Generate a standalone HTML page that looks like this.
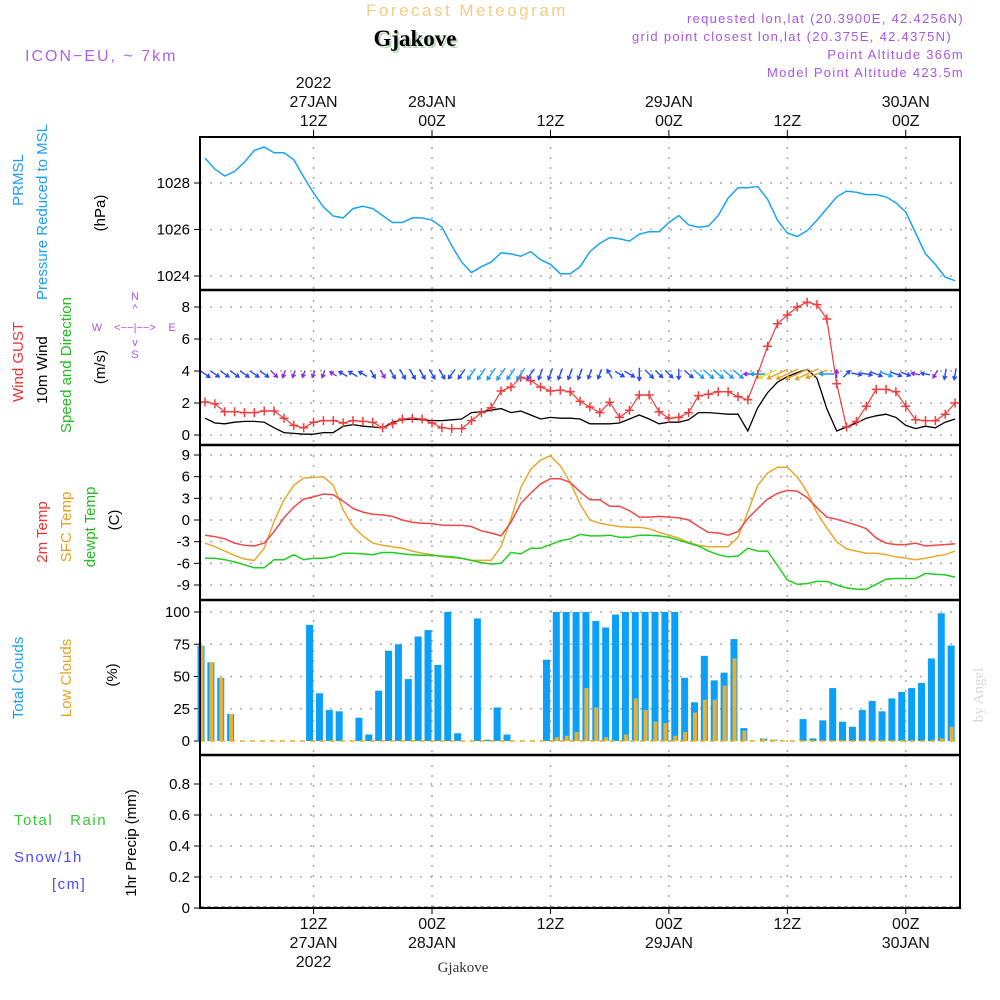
<!DOCTYPE html>
<html><head><meta charset="utf-8"><style>
html,body{margin:0;padding:0;background:#fff;}
svg{display:block;font-family:"Liberation Sans",sans-serif;}
</style></head><body>
<svg id="chart" width="1000" height="1000" viewBox="0 0 1000 1000" xmlns="http://www.w3.org/2000/svg">
<g>
<text x="467" y="16" text-anchor="middle" font-size="17" fill="#f3cd86" letter-spacing="2.5">Forecast Meteogram</text>
<text x="417" y="48" text-anchor="middle" font-size="23" font-weight="bold" font-family="Liberation Serif,serif" fill="#bcd4bc">Gjakove</text>
<text x="415" y="46" text-anchor="middle" font-size="23" font-weight="bold" font-family="Liberation Serif,serif" fill="#000">Gjakove</text>
<text x="25" y="61" font-size="16" fill="#b060e8" letter-spacing="2">ICON−EU, ~ 7km</text>
<g font-size="13" fill="#a855e8" text-anchor="end" letter-spacing="1.3">
<text x="964" y="23">requested lon,lat (20.3900E, 42.4256N)</text>
<text x="952" y="41">grid point closest lon,lat (20.375E, 42.4375N)</text>
<text x="964" y="59">Point Altitude 366m</text>
<text x="964" y="77">Model Point Altitude 423.5m</text>
</g>
</g>
<g id="axes"></g>
<g id="marks"></g>
<g font-size="15">
<text transform="translate(23,180) rotate(-90)" text-anchor="middle" fill="#1ea0f0">PRMSL</text>
<text transform="translate(47,212) rotate(-90)" text-anchor="middle" fill="#1ea0f0">Pressure Reduced to MSL</text>
<text transform="translate(105,213) rotate(-90)" text-anchor="middle" fill="#000">(hPa)</text>
<text transform="translate(23,362) rotate(-90)" text-anchor="middle" fill="#ee3333">Wind GUST</text>
<text transform="translate(47,370) rotate(-90)" text-anchor="middle" fill="#000">10m Wind</text>
<text transform="translate(71,365) rotate(-90)" text-anchor="middle" fill="#22bb22">Speed and Direction</text>
<text transform="translate(105,367) rotate(-90)" text-anchor="middle" fill="#000">(m/s)</text>
<text transform="translate(47,532) rotate(-90)" text-anchor="middle" fill="#ee3333">2m Temp</text>
<text transform="translate(71,527) rotate(-90)" text-anchor="middle" fill="#e8a020">SFC Temp</text>
<text transform="translate(95,527) rotate(-90)" text-anchor="middle" fill="#22bb22">dewpt Temp</text>
<text transform="translate(119,520) rotate(-90)" text-anchor="middle" fill="#000">(C)</text>
<text transform="translate(23,678) rotate(-90)" text-anchor="middle" fill="#1ea0f0">Total Clouds</text>
<text transform="translate(71,678) rotate(-90)" text-anchor="middle" fill="#e8a020">Low Clouds</text>
<text transform="translate(117,675) rotate(-90)" text-anchor="middle" fill="#000">(%)</text>
<text transform="translate(136,843) rotate(-90)" text-anchor="middle" fill="#000">1hr Precip (mm)</text>
<text x="14" y="825" fill="#33cc33" letter-spacing="1.5">Total&#160;&#160;&#160;Rain</text>
<text x="14" y="862" fill="#4a4aff" letter-spacing="1.5">Snow/1h</text>
<text x="52" y="889" fill="#4a4aff" letter-spacing="1.5">[cm]</text>
<g fill="#a855e8" font-size="11">
<text x="135" y="300" text-anchor="middle">N</text>
<text x="135" y="312" text-anchor="middle">^</text>
<text x="97" y="331" text-anchor="middle">W</text>
<text x="135" y="331" text-anchor="middle">&lt;−−|−−&gt;</text>
<text x="172" y="331" text-anchor="middle">E</text>
<text x="135" y="346" text-anchor="middle">v</text>
<text x="135" y="358" text-anchor="middle">S</text>
</g>
<text transform="translate(983,695) rotate(-90)" text-anchor="middle" font-family="Liberation Serif,serif" fill="#d8d8d8" font-size="15">by Angel</text>
<text x="463" y="972" text-anchor="middle" font-family="Liberation Serif,serif" font-size="15" fill="#333">Gjakove</text>
</g>
<script>
const pressure=[1029.07,1028.6,1028.3,1028.5,1028.9,1029.4,1029.55,1029.3,1029.3,1029.0,1028.26,1027.57,1026.97,1026.58,1026.5,1026.9,1027.0,1026.9,1026.6,1026.3,1026.3,1026.5,1026.5,1026.4,1026.1,1025.3,1024.6,1024.15,1024.4,1024.6,1025.0,1024.95,1024.85,1025.05,1024.7,1024.5,1024.1,1024.1,1024.4,1025.05,1025.4,1025.65,1025.6,1025.5,1025.8,1025.9,1025.9,1026.3,1026.6,1026.2,1026.1,1026.15,1026.6,1027.35,1027.8,1027.8,1027.85,1027.3,1026.4,1025.85,1025.7,1025.95,1026.4,1026.9,1027.4,1027.65,1027.6,1027.5,1027.5,1027.4,1027.15,1026.75,1025.85,1024.95,1024.5,1023.95,1023.8];
const gust=[2.06,1.95,1.45,1.45,1.4,1.4,1.5,1.5,1.05,0.6,0.45,0.8,0.9,0.9,0.75,0.9,0.85,0.8,0.45,0.7,1.0,1.05,1.0,0.75,0.45,0.4,0.4,0.9,1.4,1.7,2.75,3.0,3.6,3.4,3.0,2.75,2.8,2.7,2.1,1.75,1.4,2.05,1.1,1.55,2.5,2.5,1.45,1.05,1.1,1.4,2.45,2.55,2.7,2.7,2.4,2.2,3.8,5.55,6.95,7.5,8.0,8.3,8.15,7.25,3.2,0.5,0.85,1.8,2.85,2.85,2.7,1.8,0.95,0.9,0.9,1.3,2.0];
const wind=[1.05,0.75,0.7,0.8,0.85,0.85,0.8,0.45,0.15,0.1,0.05,0.05,0.15,0.15,0.55,0.65,0.55,0.5,0.45,0.8,0.95,1.0,0.95,0.9,0.9,0.95,1.0,1.4,1.45,1.55,1.65,1.4,1.5,1.25,1.0,1.1,1.05,1.05,1.0,0.7,0.7,0.7,0.75,1.0,1.25,1.0,0.7,0.8,0.8,0.95,1.4,1.4,1.35,1.3,1.3,0.25,1.7,2.65,3.3,3.65,3.9,4.1,3.55,1.65,0.25,0.5,0.75,1.05,1.2,1.3,1.1,0.6,0.4,0.55,0.45,0.8,1.0];
const windDir=[125,125,125,125,125,125,125,135,200,200,200,200,200,300,300,300,300,150,150,150,150,150,150,150,150,215,215,215,215,215,215,215,215,215,200,200,200,200,200,200,200,330,120,120,180,135,135,135,180,130,130,130,130,130,130,270,270,245,245,245,245,245,250,270,0,45,100,100,110,110,110,110,280,280,210,190,190];
const temp2m=[-2.1,-2.3,-2.6,-3.2,-3.5,-3.6,-3.2,-1.6,0.3,1.8,2.9,3.2,3.6,3.5,2.6,1.6,1.1,0.8,0.7,0.5,0,-0.3,-0.45,-0.5,-0.7,-0.75,-0.75,-0.9,-1.5,-1.8,-2.2,-0.3,2.3,3.7,5.0,5.7,5.7,5.2,3.9,2.8,2.8,1.9,1.9,1.3,0.4,0.4,0.5,0.4,0.3,0,-0.9,-1.7,-1.8,-2.1,-1.6,0.2,1.6,2.9,3.7,4.1,4.0,3.1,1.7,0.4,0.1,-0.3,-0.7,-1.2,-2.5,-3.2,-3.4,-3.4,-3.2,-3.6,-3.5,-3.4,-3.3];
const tempSfc=[-3.2,-3.7,-4.3,-4.9,-5.4,-5.6,-3.9,-0.2,2.8,4.8,5.8,5.9,6.0,4.8,1.4,-0.9,-2.2,-3.2,-3.5,-3.7,-3.9,-4.3,-4.6,-4.8,-5.1,-5.2,-5.3,-5.6,-5.6,-5.6,-3.7,0.2,4.5,7.0,8.3,8.9,7.5,5.2,2.2,0,-0.45,-0.7,-0.9,-1.0,-1.0,-1.2,-1.7,-2.1,-2.5,-3.1,-3.5,-3.7,-3.7,-3.7,-2.4,1.1,4.8,6.5,7.3,7.3,6.0,3.9,1.0,-1.1,-3.0,-4.0,-4.3,-4.6,-4.6,-4.8,-5.1,-5.3,-5.5,-5.3,-5.0,-4.8,-4.3];
const dewpt=[-5.3,-5.3,-5.5,-5.8,-6.2,-6.6,-6.6,-5.5,-5.5,-4.8,-5.5,-5.3,-5.3,-5.1,-4.6,-4.6,-4.7,-4.8,-4.5,-4.5,-4.7,-4.8,-4.9,-4.9,-5.0,-5.1,-5.3,-5.6,-5.9,-6.1,-6.0,-4.5,-4.7,-3.9,-3.9,-3.4,-2.9,-2.6,-2.0,-2.2,-2.2,-2.1,-2.4,-2.4,-2.1,-2.1,-2.2,-2.4,-2.8,-3.2,-3.6,-4.3,-4.8,-5.1,-5.0,-3.9,-4.3,-4.3,-6.3,-8.3,-8.9,-8.8,-8.5,-8.5,-9.0,-9.4,-9.6,-9.6,-8.9,-8.2,-8.1,-8.1,-8.1,-7.4,-7.5,-7.6,-7.9];
const totalClouds=[74,61,49,21,0,0,0,0,0,0,0,90,37,24,23,0,18,5,39,70,75,48,81,86,59,100,6,0,95,1,26,5,0,0,0,63,100,100,100,100,93,88,98,100,100,100,100,100,100,49,30,66,47,53,79,10,0,2,1,0,0,17,2,16,41,15,11,24,31,23,33,38,41,45,64,99,74];
const lowClouds=[74,61,49,21,0,0,0,0,0,0,0,0,0,0,0,0,0,0,0,0,0,0,0,0,0,0,0,0,0,0,0,0,0,0,0,0,3,4,7,41,26,3,0,5,33,24,15,14,4,7,22,32,32,43,64,8,0,2,1,0,0,0,0,0,0,0,0,0,0,0,0,0,0,0,0,2,11];
const precip=[0,0,0,0,0,0,0,0,0,0,0,0,0,0,0,0,0,0,0,0,0,0,0,0,0,0,0,0,0,0,0,0,0,0,0,0,0,0,0,0,0,0,0,0,0,0,0,0,0,0,0,0,0,0,0,0,0,0,0,0,0,0,0,0,0,0,0,0,0,0,0,0,0,0,0,0,0];
const timeTicks=[11,23,35,47,59,71];
const topLabels=[["2022","27JAN","12Z"],["28JAN","00Z"],["12Z"],["29JAN","00Z"],["12Z"],["30JAN","00Z"]];
const bottomLabels=[["12Z","27JAN","2022"],["00Z","28JAN"],["12Z"],["00Z","29JAN"],["12Z"],["00Z","30JAN"]];
const pTicks=[1024,1026,1028];
const wTicks=[0,2,4,6,8];
const tTicks=[-9,-6,-3,0,3,6,9];
const cTicks=[0,25,50,75,100];
const rTicks=[0,0.2,0.4,0.6,0.8];

const NS='http://www.w3.org/2000/svg';
const X0=200,X1=960;
const xH=i=>205+9.87*i;
const lin=(d0,d1,r0,r1)=>v=>r0+(v-d0)*(r1-r0)/(d1-d0);
const yP=lin(1024,1028,276,183), yW=lin(0,8,435,307), yT=lin(-9,9,585,455), yC=lin(0,100,741,612), yR=lin(0,0.8,908,784);
const axes=document.getElementById('axes'), marks=document.getElementById('marks');
function mk(tag,attrs,parent){const e=document.createElementNS(NS,tag);for(const k in attrs)e.setAttribute(k,attrs[k]);(parent||marks).appendChild(e);return e;}
const panels=[{t:137,b:290,ticks:pTicks,f:yP,name:'pressure'},{t:290,b:445,ticks:wTicks,f:yW,name:'wind'},{t:445,b:600,ticks:tTicks,f:yT,name:'temp'},{t:600,b:755,ticks:cTicks,f:yC,name:'clouds'},{t:755,b:908,ticks:rTicks,f:yR,name:'precip'}];
panels.forEach(p=>{
  timeTicks.forEach(i=>{const l=mk('line',{x1:xH(i),x2:xH(i),y1:p.t,y2:p.b,stroke:'#aaa','stroke-width':1.5,'stroke-dasharray':'2 8'},axes);
    
    });
  p.ticks.forEach(v=>{const y=p.f(v);
    const g=mk('line',{x1:X0,x2:X1,y1:y,y2:y,stroke:'#aaa','stroke-width':1.5,'stroke-dasharray':'2 8'},axes);
    
    
    mk('line',{x1:194,x2:X0,y1:y,y2:y,stroke:'#000','stroke-width':1},axes);
    const t=mk('text',{x:190,y:y+5,'text-anchor':'end','font-size':15,fill:'#000'},axes);
    t.textContent=String(v);
    
    });
});
timeTicks.forEach((i,k)=>{const x=xH(i);
  mk('line',{x1:x,x2:x,y1:130,y2:137,stroke:'#000'},axes);
  mk('line',{x1:x,x2:x,y1:908,y2:914,stroke:'#000'},axes);
  const tl=topLabels[k];tl.forEach((s,j)=>{const t=mk('text',{x:x,y:126-(tl.length-1-j)*19,'text-anchor':'middle','font-size':16,fill:'#111'},axes);t.textContent=s;
    
    });
  bottomLabels[k].forEach((s,j)=>{const t=mk('text',{x:x,y:929+j*19,'text-anchor':'middle','font-size':16,fill:'#111'},axes);t.textContent=s;
    
    });
});
totalClouds.forEach((v,i)=>{if(v<=0)return;const x=xH(i)-4;
  const r=mk('rect',{x:x-3.5,y:yC(v),width:7,height:yC(0)-yC(v),fill:'#0aa0f8'});
  
  });
lowClouds.forEach((v,i)=>{if(v<=0)return;const x=xH(i)-4;
  const r=mk('rect',{x:x-1.5,y:yC(v),width:4,height:yC(0)-yC(v),fill:'#e8b030'});
  
  });
mk('line',{x1:X0,x2:X1,y1:741,y2:741,stroke:'#e8b030','stroke-width':1.5,'stroke-dasharray':'5 5'});
precip.forEach((v,i)=>{if(v<=0)return;const r=mk('rect',{x:xH(i)-6,y:yR(v),width:5,height:yR(0)-yR(v),fill:'#33cc33'});
  
  });
mk('line',{x1:X0,x2:X1,y1:907,y2:907,stroke:'#444','stroke-width':1,'stroke-dasharray':'4 3'});
function line(arr,f,color,name,w){const pts=arr.map((v,i)=>xH(i).toFixed(1)+','+f(v).toFixed(1)).join(' ');
  const l=mk('polyline',{points:pts,fill:'none',stroke:color,'stroke-width':w||1.5});
  
  return l;}
line(pressure,yP,'#1aa3f5','pressure-line');
line(wind,yW,'#000','wind-speed-line',1.3);
line(gust,yW,'#f03c3c','gust-line',1.2);
gust.forEach((v,i)=>{const x=xH(i),y=yW(v);
  const m=mk('path',{d:`M${x-4.5},${y}H${x+4.5}M${x},${y-4.5}V${y+4.5}`,stroke:'#f03c3c','stroke-width':1.5});
  
  });
function wcol(s){return s<0.5?'#8a2be2':s<1.3?'#2a4af0':s<1.8?'#1e9cf0':s<2.4?'#22c8c8':s<3.0?'#e0e030':'#e8a020';}
windDir.forEach((d,i)=>{const s=wind[i];const L=7+s*4.5;const a=(d-90)*Math.PI/180;
  const cx=xH(i),cy=yW(4)+3;const dx=Math.cos(a)*L/2,dy=Math.sin(a)*L/2;
  const x2=cx+dx,y2=cy+dy,x1=cx-dx,y1=cy-dy;const h=4;
  const b1=a+Math.PI*0.83,b2=a-Math.PI*0.83;
  const p=mk('path',{d:`M${x1},${y1}L${x2},${y2}M${x2+Math.cos(b1)*h},${y2+Math.sin(b1)*h}L${x2},${y2}L${x2+Math.cos(b2)*h},${y2+Math.sin(b2)*h}`,stroke:wcol(s),'stroke-width':1.4,fill:'none'});
  
  });
line(tempSfc,yT,'#e8a830','sfc-temp-line');
line(temp2m,yT,'#f04848','temp-2m-line');
line(dewpt,yT,'#22cc22','dewpoint-line');
[290,445,600,755].forEach(y=>mk('line',{x1:X0,x2:X1,y1:y,y2:y,stroke:'#000','stroke-width':2.5}));
const fr=mk('rect',{x:X0,y:137,width:X1-X0,height:771,fill:'none',stroke:'#000','stroke-width':2});


</script>
</svg>
</body></html>
